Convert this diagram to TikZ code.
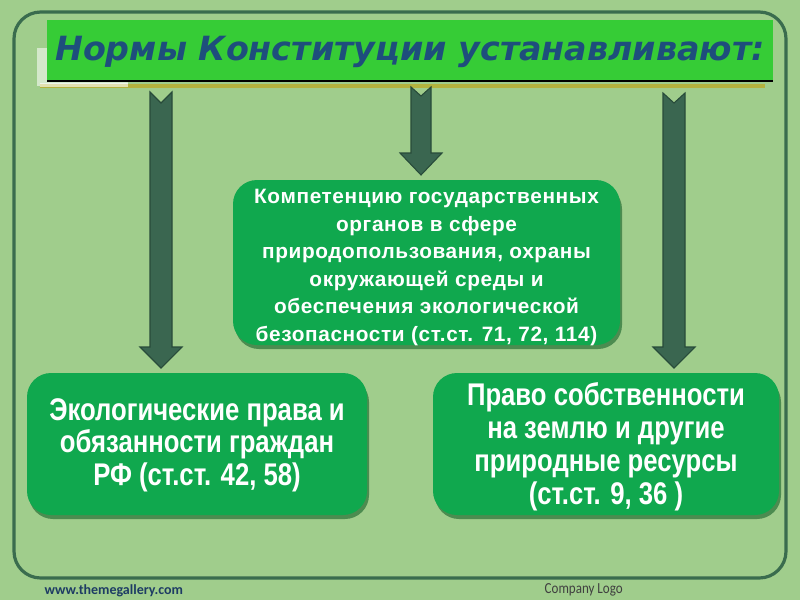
\documentclass[tikz,border=0pt]{standalone}
\usepackage{fontspec}
\setmainfont{Liberation Sans}
\newfontfamily\narrowfont[FakeStretch=0.82]{Liberation Sans}
\newfontfamily\spacedfont[LetterSpace=3]{Liberation Sans}
\newfontfamily\titlefont{DejaVu Sans}
\newfontfamily\footfont{Carlito}
\newfontfamily\footnarrow[FakeStretch=0.85]{Carlito}
\definecolor{bgc}{RGB}{160,205,140}
\definecolor{framec}{RGB}{58,108,78}
\definecolor{titlebar}{RGB}{54,204,54}
\definecolor{titletext}{RGB}{30,78,124}
\definecolor{goldline}{RGB}{180,178,62}
\definecolor{boxfill}{RGB}{16,168,78}
\definecolor{boxshadow}{RGB}{76,140,80}
\definecolor{arrowfill}{RGB}{58,102,80}
\definecolor{arrowline}{RGB}{40,75,58}
\definecolor{footc}{RGB}{30,60,100}
\tikzset{
  greenbox/.style={rounded corners=18, fill=boxfill},
  shadowbox/.style={rounded corners=18, fill=boxshadow},
  blockarrow/.style={fill=arrowfill, draw=arrowline, line width=0.8pt, line join=miter},
  boxtext/.style={text=white, align=center, font=\bfseries},
}
\begin{document}
\begin{tikzpicture}[x=0.75pt,y=-0.75pt]
\useasboundingbox (0,0) rectangle (800,600);
\fill[bgc] (0,0) rectangle (800,600);
% outer frame
\draw[framec, line width=2.4pt, rounded corners=20] (14,12) rectangle (786,578);
% title bar
\fill[white, opacity=0.55] (37,48) rectangle (128,86);
\fill[goldline] (40,84) rectangle (765,88);
\fill[white, opacity=0.6] (40,83) rectangle (128,87);
\fill[titlebar] (47,20) rectangle (773,81);
\draw[black, line width=0.9pt] (47,81) -- (773,81);
\node[text=titletext, font=\titlefont\bfseries\itshape\fontsize{25}{30}\selectfont] (title) at (410,52) {Нормы Конституции устанавливают:};
% arrows
\filldraw[blockarrow] (150,92) -- (161,103) -- (172,92) -- (172,347) -- (182,347) -- (161,368) -- (140,347) -- (150,347) -- cycle;
\filldraw[blockarrow] (411,87) -- (421,96) -- (431,87) -- (431,153) -- (442,153) -- (421,175) -- (400,153) -- (411,153) -- cycle;
\filldraw[blockarrow] (663,93) -- (674,103) -- (685,93) -- (685,347) -- (695,347) -- (674,368) -- (653,347) -- (663,347) -- cycle;
% middle box
\fill[shadowbox] (235,185) rectangle (622,349);
\fill[greenbox] (233,180) rectangle (620,345);
\node[boxtext, font=\spacedfont\bfseries\fontsize{15.6}{20.6}\selectfont] (mid) at (426.5,267.5) {Компетенцию государственных\\органов в сфере\\природопользования, охраны\\окружающей среды и\\обеспечения экологической\\безопасности (ст.ст. 71, 72, 114)};
% left box
\fill[shadowbox] (29,378) rectangle (369,519);
\fill[greenbox] (27,373) rectangle (367,515);
\node[boxtext, font=\narrowfont\bfseries\fontsize{23.5}{24.4}\selectfont] (left) at (197,445) {Экологические права и\\обязанности граждан\\РФ (ст.ст. 42, 58)};
% right box
\fill[shadowbox] (435,378) rectangle (781,519);
\fill[greenbox] (433,373) rectangle (779,515);
\node[boxtext, font=\narrowfont\bfseries\fontsize{23.5}{24.75}\selectfont] (right) at (606,447) {Право собственности\\на землю и другие\\природные ресурсы\\(ст.ст. 9, 36 )};
% footer
\node[anchor=west, text=footc, font=\footfont\bfseries\fontsize{10.5}{12}\selectfont] (web) at (40,591) {www.themegallery.com};
\node[anchor=west, text=black!75, font=\footnarrow\fontsize{11.5}{13}\selectfont] (logo) at (540,590) {Company Logo};
\end{tikzpicture}
\end{document}
